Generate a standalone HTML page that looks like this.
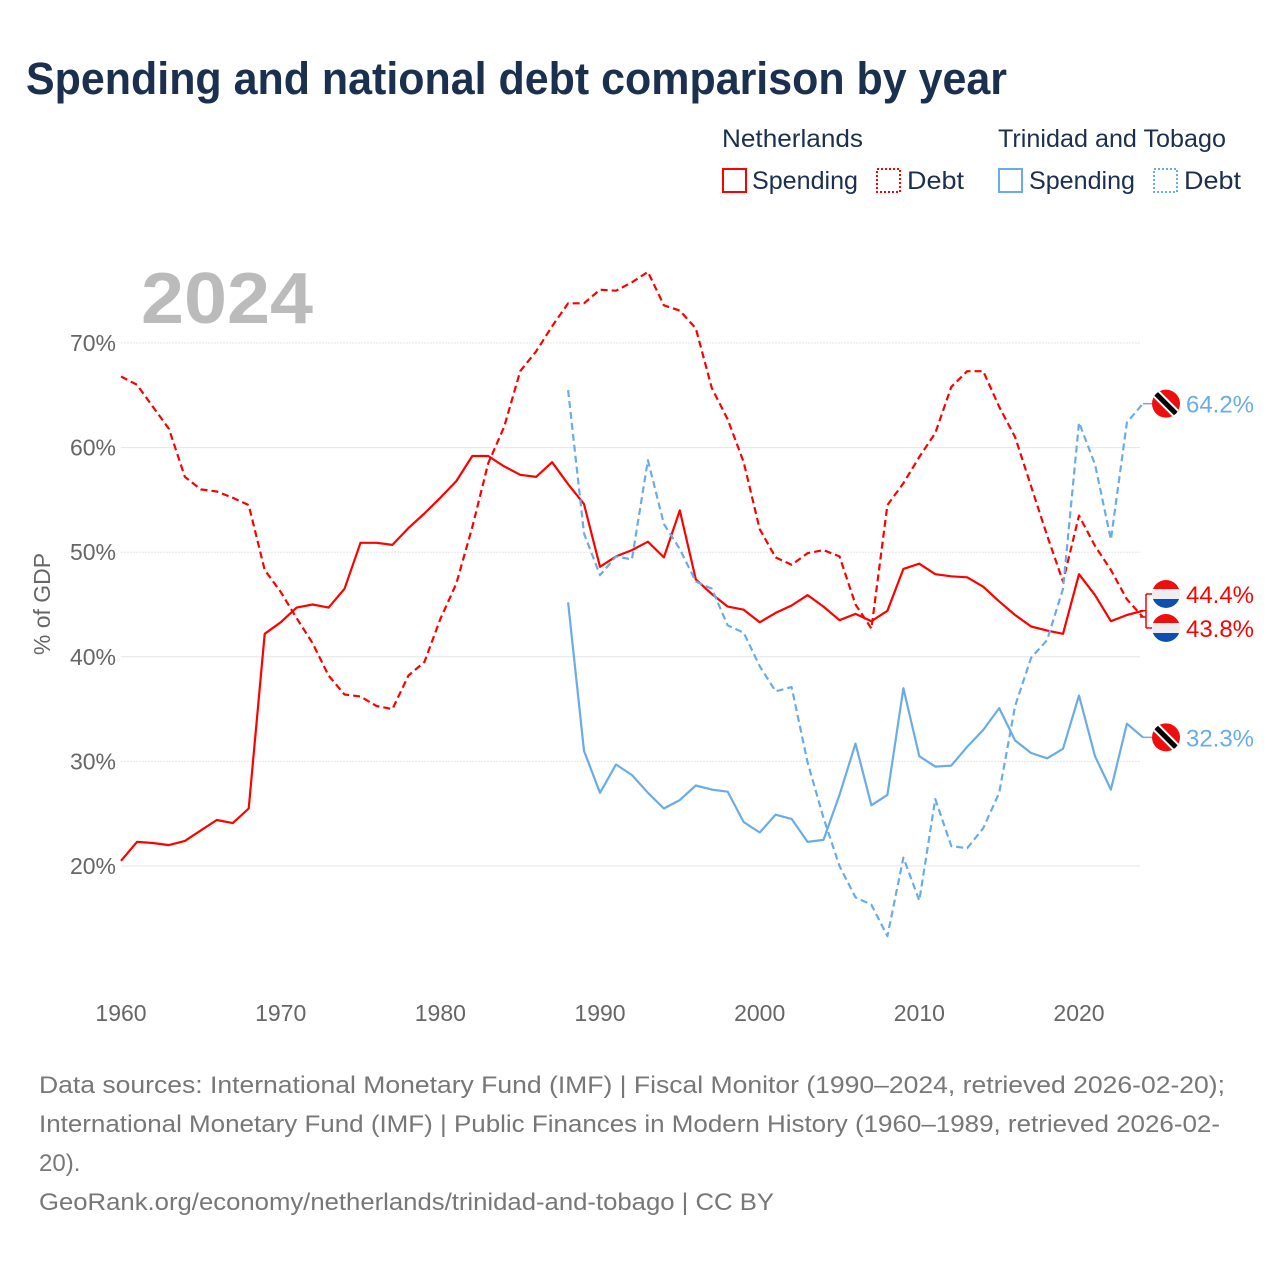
<!DOCTYPE html>
<html><head><meta charset="utf-8">
<style>
body{margin:0;background:#fff;font-family:"Liberation Sans",sans-serif;}
#wrap{position:relative;width:1280px;height:1280px;overflow:hidden;}
</style></head>
<body>
<div id="wrap">
<svg id="chart" width="1280" height="1280" xmlns="http://www.w3.org/2000/svg">
<text x="26" y="94" font-size="45" font-weight="bold" fill="#1b2f4e" textLength="981" lengthAdjust="spacingAndGlyphs">Spending and national debt comparison by year</text>
<g font-size="25" fill="#1b2f4e">
<text x="722" y="147" textLength="141" lengthAdjust="spacingAndGlyphs">Netherlands</text>
<text x="998" y="147" textLength="228" lengthAdjust="spacingAndGlyphs">Trinidad and Tobago</text>
<g><rect x="723" y="169" width="23" height="23" fill="none" stroke="#ff0000" stroke-width="2"/><text x="752" y="189" textLength="106" lengthAdjust="spacingAndGlyphs">Spending</text></g>
<g><rect x="877" y="169" width="23" height="23" fill="none" stroke="#ff0000" stroke-width="2" stroke-dasharray="2,2"/><text x="907" y="189" textLength="57" lengthAdjust="spacingAndGlyphs">Debt</text></g>
<g><rect x="999" y="169" width="23" height="23" fill="none" stroke="#6aace8" stroke-width="2"/><text x="1029" y="189" textLength="106" lengthAdjust="spacingAndGlyphs">Spending</text></g>
<g><rect x="1154" y="169" width="23" height="23" fill="none" stroke="#6aace8" stroke-width="2" stroke-dasharray="2,2"/><text x="1184" y="189" textLength="57" lengthAdjust="spacingAndGlyphs">Debt</text></g>
</g>
<text x="141" y="323" font-size="72" font-weight="bold" fill="#bbbbbb" textLength="172" lengthAdjust="spacingAndGlyphs">2024</text>
<text transform="translate(50,604) rotate(-90)" text-anchor="middle" font-size="23" fill="#666">% of GDP</text>
<g id="grid"></g><g id="series"></g><g id="labels"></g>
<g font-size="24" fill="#777">
<text x="39" y="1093" textLength="1186" lengthAdjust="spacingAndGlyphs">Data sources: International Monetary Fund (IMF) | Fiscal Monitor (1990–2024, retrieved 2026-02-20);</text>
<text x="39" y="1132" textLength="1181" lengthAdjust="spacingAndGlyphs">International Monetary Fund (IMF) | Public Finances in Modern History (1960–1989, retrieved 2026-02-</text>
<text x="39" y="1171">20).</text>
<text x="39" y="1210" textLength="735" lengthAdjust="spacingAndGlyphs">GeoRank.org/economy/netherlands/trinidad-and-tobago | CC BY</text>
</g>
</svg>
</div>
<script>
const nlYears=[1960,2024];
const nlSpending=[20.5,22.3,22.2,22.0,22.4,23.4,24.4,24.1,25.5,42.2,43.3,44.7,45.0,44.7,46.5,50.9,50.9,50.7,52.3,53.7,55.2,56.8,59.2,59.2,58.2,57.4,57.2,58.6,56.5,54.6,48.6,49.6,50.2,51.0,49.5,54.0,47.4,46.0,44.8,44.5,43.3,44.2,44.9,45.9,44.8,43.5,44.1,43.4,44.4,48.4,48.9,47.9,47.7,47.6,46.7,45.3,44.0,42.9,42.5,42.2,47.9,45.9,43.4,44.0,44.4];
const nlDebt=[66.8,66.0,63.9,61.8,57.2,56.0,55.8,55.2,54.5,48.3,46.2,43.7,41.3,38.2,36.4,36.2,35.3,35.0,38.2,39.5,43.6,47.0,52.4,58.5,62.0,67.3,69.2,71.6,73.8,73.8,75.1,75.0,75.8,76.8,73.6,73.1,71.4,65.7,62.7,58.6,52.2,49.5,48.8,49.9,50.2,49.6,45.0,42.7,54.5,56.6,59.1,61.4,65.8,67.3,67.3,63.9,61.0,56.3,51.6,47.2,53.5,50.6,48.3,45.5,43.8];
const ttStart=1988;
const ttSpending=[45.2,31.0,27.0,29.7,28.7,27.0,25.5,26.3,27.7,27.3,27.1,24.2,23.2,24.9,24.5,22.3,22.5,26.8,31.7,25.8,26.8,37.0,30.5,29.5,29.6,31.4,33.0,35.1,32.0,30.8,30.3,31.2,36.3,30.5,27.3,33.6,32.3];
const ttDebt=[65.5,51.8,47.8,49.6,49.3,58.8,52.7,50.3,47.2,46.5,43.0,42.3,39.1,36.7,37.1,29.9,24.6,20.0,17.0,16.3,13.3,20.8,16.7,26.4,21.9,21.7,23.6,27.0,35.3,39.9,41.6,46.5,62.4,58.4,51.2,62.4,64.2];
const yTicks=[20,30,40,50,60,70];
const xTicks=[1960,1970,1980,1990,2000,2010,2020];
const NS="http://www.w3.org/2000/svg";
function X(yr){return 121+(yr-1960)*(1079-121)/60;}
function Y(v){return 866-(v-20)*(866-343)/50;}
function mk(tag,attrs,parent){const e=document.createElementNS(NS,tag);for(const k in attrs)e.setAttribute(k,attrs[k]);parent.appendChild(e);return e;}
const grid=document.getElementById('grid');
yTicks.forEach(t=>{
  const l=mk('line',{x1:121,x2:1140,y1:Y(t),y2:Y(t),stroke:'#e6e6e6','stroke-width':1,'stroke-dasharray':t%20==0?'none':'2,1'},grid);
  
  
  const tx=mk('text',{x:116,y:Y(t)+8,'text-anchor':'end','font-size':23,fill:'#666'},grid);
  tx.textContent=t+'%';
  
  
});
xTicks.forEach(t=>{
  const tx=mk('text',{x:X(t),y:1021,'text-anchor':'middle','font-size':23,fill:'#666'},grid);
  tx.textContent=t;
  
  
});
const ser=document.getElementById('series');
function line(vals,start,color,dash,name){
  const pts=vals.map((v,i)=>X(start+i).toFixed(1)+','+Y(v).toFixed(1)).join(' ');
  const p=mk('polyline',{points:pts,fill:'none',stroke:color,'stroke-width':2.2,'stroke-linejoin':'round','stroke-dasharray':dash},ser);
  
  
}
line(nlDebt,nlYears[0],'#ff0000','7,4','nl-debt-line');
line(nlSpending,nlYears[0],'#ff0000','none','nl-spending-line');
line(ttDebt,ttStart,'#6aace8','7,4','tt-debt-line');
line(ttSpending,ttStart,'#6aace8','none','tt-spending-line');
const lab=document.getElementById('labels');
function flag(cy,type,val,color,name){
  const g=mk('g',{},lab);
  
  
  const cx=1166;
  const cp='cp'+name;
  const c=mk('clipPath',{id:cp},g);mk('circle',{cx:cx,cy:cy,r:14},c);
  const f=mk('g',{'clip-path':'url(#'+cp+')'},g);
  if(type==='tt'){
    mk('rect',{x:cx-15,y:cy-15,width:30,height:30,fill:'#f00d0d'},f);
    mk('line',{x1:cx-14,y1:cy-14,x2:cx+14,y2:cy+14,stroke:'#fff',"stroke-width":9},f);
    mk('line',{x1:cx-14,y1:cy-14,x2:cx+14,y2:cy+14,stroke:'#000',"stroke-width":5},f);
  } else {
    mk('rect',{x:cx-15,y:cy-15,width:30,height:10,fill:'#f00d0d'},f);
    mk('rect',{x:cx-15,y:cy-5,width:30,height:10,fill:'#eee'},f);
    mk('rect',{x:cx-15,y:cy+5,width:30,height:10,fill:'#0b4fb0'},f);
  }
  const t=mk('text',{x:1186,y:cy+9,'font-size':24,fill:color,textLength:68,lengthAdjust:'spacingAndGlyphs'},g);
  t.textContent=val.toFixed(1)+'%';
}
const nlS=nlSpending[nlSpending.length-1],nlD=nlDebt[nlDebt.length-1];
const ttS=ttSpending[ttSpending.length-1],ttD=ttDebt[ttDebt.length-1];
const b=mk('path',{d:'M1140,'+Y(nlS)+' L1146,'+Y(nlS)+' M1146,594 L1146,628 M1146,594 L1152,594 M1146,628 L1152,628 M1140,'+Y(nlD)+' L1146,'+Y(nlD),stroke:'#ff0000',fill:'none','stroke-width':1.5},lab);


mk('line',{x1:X(2024),y1:Y(ttD),x2:1152,y2:Y(ttD),stroke:'#6aace8','stroke-width':1.5},lab);
mk('line',{x1:X(2024),y1:Y(ttS),x2:1152,y2:Y(ttS),stroke:'#6aace8','stroke-width':1.5},lab);
flag(Y(ttD),'tt',ttD,'#6aace8','tt-debt-end-label');
flag(594,'nl',nlS,'#ff0000','nl-spending-end-label');
flag(628,'nl',nlD,'#ff0000','nl-debt-end-label');
flag(Y(ttS),'tt',ttS,'#6aace8','tt-spending-end-label');
</script>
</body></html>
